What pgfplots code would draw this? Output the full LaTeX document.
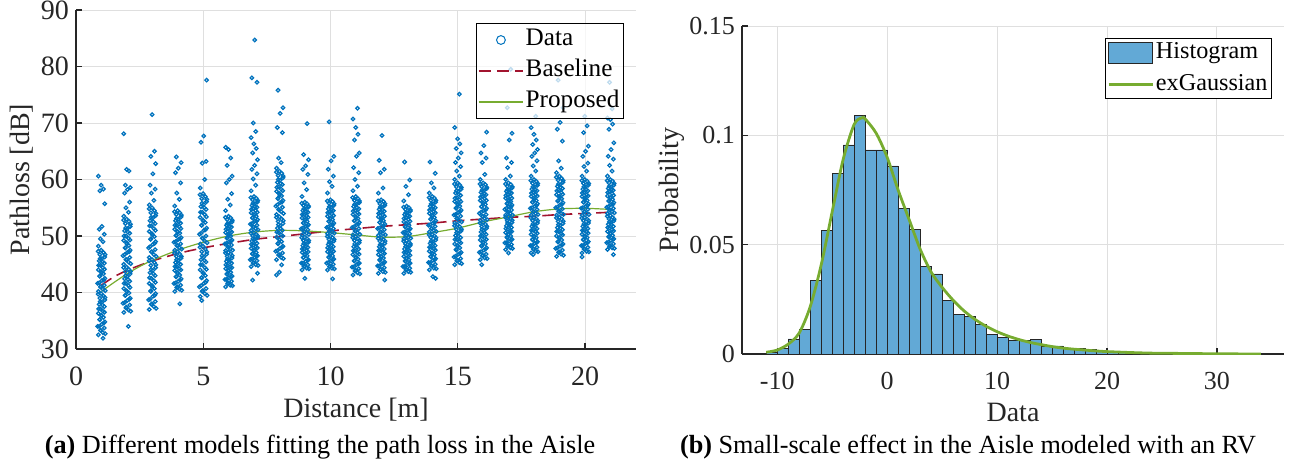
\documentclass[border=0pt]{standalone}
\usepackage{fontspec}
\setmainfont{Liberation Serif}
\usepackage{pgfplots}
\pgfplotsset{compat=1.18}
\definecolor{dblue}{RGB}{0,114,189}
\definecolor{dred}{RGB}{162,20,47}
\definecolor{dgreen}{RGB}{119,172,48}
\definecolor{hblue}{RGB}{98,169,214}
\definecolor{gridc}{RGB}{223,223,223}
\definecolor{axc}{RGB}{38,38,38}
\pgfplotsset{
  mystyle/.style={
    scale only axis,
    axis x line=bottom, axis y line=left,
    axis line style={-, draw=axc, line width=0.6pt},
    tick align=inside, major tick length=3pt,
    tick style={draw=axc, line width=0.6pt},
    grid=major, major grid style={draw=gridc, line width=0.5pt},
    /pgf/number format/assume math mode=true,
    label style={text=axc, font=\fontsize{14}{16}\selectfont},
    legend cell align=left,
  },
  pts/.style={only marks, mark=o, mark size=0.88pt, draw=dblue, line width=0.62pt},
  datalegend/.style={legend image code/.code={\draw[dblue,line width=0.5pt] (11pt,0pt) circle (2.2pt);}},
  redlegend/.style={legend image code/.code={\draw[dred, line width=0.8pt, dash pattern=on 6pt off 3pt] (0pt,0pt) -- (22pt,0pt);}},
  greenlegendA/.style={legend image code/.code={\draw[dgreen, line width=0.6pt] (0pt,0pt) -- (22pt,0pt);}},
  greenlegendB/.style={legend image code/.code={\draw[dgreen, line width=1.3pt] (0pt,0pt) -- (22pt,0pt);}},
  histlegend/.style={legend image code/.code={\draw[fill=hblue, draw=black!85, line width=0.5pt] (0pt,-5.2pt) rectangle (22pt,5.2pt);}},
}
\begin{document}
\begin{tikzpicture}
\useasboundingbox (0,0) rectangle (646.5pt,236pt);
% ---------------- (a) ----------------
\begin{axis}[mystyle,
  at={(38pt,61.5pt)}, anchor=south west,
  width=280pt, height=169.5pt,
  xmin=0, xmax=22, ymin=30, ymax=90,
  xtick={0,5,10,15,20}, ytick={30,40,50,60,70,80,90},
  tick label style={text=axc, font=\fontsize{14}{16}\selectfont},
  xticklabel style={anchor=base, yshift=-18pt},
  xlabel={Distance [m]}, ylabel={Pathloss [dB]},
  xlabel style={at={(axis description cs:0.5,-0.2035)}, anchor=base},
  ylabel style={at={(axis description cs:-0.0964,0.5)}, anchor=center},
  legend style={at={(axis description cs:0.9786,0.9617)}, anchor=north east,
    draw=black, line width=0.5pt, fill=white, fill opacity=0.75, text opacity=1, draw opacity=1,
    font=\fontsize{12.6}{14}\selectfont, inner xsep=1pt, inner ysep=2.5pt, row sep=4pt,
    nodes={inner sep=1pt, text height=0.75em, text depth=0.2em}},
]
\addplot[pts, datalegend]
coordinates {
(0.88,32.5)(1.06,32.9)(0.96,33.3)(1.11,33.7)(0.91,34.0)(1.02,34.4)(1.13,34.8)(0.94,35.2)(1.08,35.6)(0.99,36.0)
(0.88,36.3)(1.06,36.7)(0.96,37.1)(1.11,37.5)(0.91,37.9)(1.02,38.3)(1.13,38.7)(0.94,39.0)(1.08,39.4)(0.99,39.8)
(0.88,40.2)(1.06,40.6)(0.96,41.0)(1.11,41.3)(0.91,41.7)(1.02,42.1)(1.13,42.5)(0.94,42.9)(1.08,43.3)(0.99,43.7)
(0.88,44.0)(1.06,44.4)(0.96,44.8)(1.11,45.2)(0.91,45.6)(1.02,46.0)(1.13,46.3)(0.94,46.7)(1.08,47.1)(0.99,47.5)
(0.88,48.2)(1.06,49.0)(0.96,49.5)(1.11,50.3)(0.91,51.2)(1.02,51.7)(1.13,55.7)(0.94,58.0)(1.08,58.3)(0.99,59.0)(0.88,60.6)(1.06,31.9)
(1.88,36.5)(2.06,36.9)(1.96,37.3)(2.11,37.8)(1.91,38.2)(2.02,38.6)(2.13,39.0)(1.94,39.5)(2.08,39.9)(1.99,40.3)
(1.88,40.7)(2.06,41.2)(1.96,41.6)(2.11,42.0)(1.91,42.4)(2.02,42.8)(2.13,43.3)(1.94,43.7)(2.08,44.1)(1.99,44.5)
(1.88,45.0)(2.06,45.4)(1.96,45.8)(2.11,46.2)(1.91,46.7)(2.02,47.1)(2.13,47.5)(1.94,47.9)(2.08,48.3)(1.99,48.8)
(1.88,49.2)(2.06,49.6)(1.96,50.0)(2.11,50.5)(1.91,50.9)(2.02,51.3)(2.13,51.7)(1.94,52.2)(2.08,52.6)(1.99,53.0)
(1.88,53.5)(2.06,54.2)(1.96,55.0)(2.11,56.0)(1.91,57.6)(2.02,58.2)(2.13,58.6)(1.94,59.0)(2.08,61.5)(1.99,61.8)(1.88,68.1)(2.06,34.0)
(2.88,37.0)(3.06,37.5)(2.96,37.9)(3.11,38.4)(2.91,38.8)(3.02,39.3)(3.13,39.8)(2.94,40.2)(3.08,40.7)(2.99,41.2)
(2.88,41.6)(3.06,42.1)(2.96,42.5)(3.11,43.0)(2.91,43.5)(3.02,43.9)(3.13,44.4)(2.94,44.8)(3.08,45.3)(2.99,45.8)
(2.88,46.2)(3.06,46.7)(2.96,47.2)(3.11,47.6)(2.91,48.1)(3.02,48.5)(3.13,49.0)(2.94,49.5)(3.08,49.9)(2.99,50.4)
(2.88,50.8)(3.06,51.3)(2.96,51.8)(3.11,52.2)(2.91,52.7)(3.02,53.2)(3.13,53.6)(2.94,54.1)(3.08,54.5)(2.99,55.0)
(2.88,55.5)(3.06,56.3)(2.96,57.6)(3.11,58.3)(2.91,59.0)(3.02,61.0)(3.13,62.8)(2.94,64.1)(3.08,65.0)(2.99,71.5)
(3.88,40.2)(4.06,40.6)(3.96,40.9)(4.11,41.3)(3.91,41.7)(4.02,42.0)(4.13,42.4)(3.94,42.8)(4.08,43.1)(3.99,43.5)
(3.88,43.9)(4.06,44.2)(3.96,44.6)(4.11,45.0)(3.91,45.3)(4.02,45.7)(4.13,46.1)(3.94,46.4)(4.08,46.8)(3.99,47.2)
(3.88,47.5)(4.06,47.9)(3.96,48.3)(4.11,48.6)(3.91,49.0)(4.02,49.4)(4.13,49.7)(3.94,50.1)(4.08,50.5)(3.99,50.8)
(3.88,51.2)(4.06,51.6)(3.96,51.9)(4.11,52.3)(3.91,52.7)(4.02,53.0)(4.13,53.4)(3.94,53.8)(4.08,54.1)(3.99,54.5)
(3.88,55.3)(4.06,56.5)(3.96,57.6)(4.11,59.4)(3.91,61.2)(4.02,62.0)(4.13,63.0)(3.94,64.0)(4.08,38.0)
(4.88,39.3)(5.06,39.8)(4.96,40.2)(5.11,40.7)(4.91,41.2)(5.02,41.6)(5.13,42.1)(4.94,42.6)(5.08,43.0)(4.99,43.5)
(4.88,44.0)(5.06,44.4)(4.96,44.9)(5.11,45.4)(4.91,45.8)(5.02,46.3)(5.13,46.8)(4.94,47.2)(5.08,47.7)(4.99,48.2)
(4.88,48.6)(5.06,49.1)(4.96,49.6)(5.11,50.0)(4.91,50.5)(5.02,51.0)(5.13,51.4)(4.94,51.9)(5.08,52.4)(4.99,52.8)
(4.88,53.3)(5.06,53.8)(4.96,54.2)(5.11,54.7)(4.91,55.2)(5.02,55.6)(5.13,56.1)(4.94,56.6)(5.08,57.0)(4.99,57.5)
(4.88,58.5)(5.06,60.0)(4.96,62.9)(5.11,63.2)(4.91,66.6)(5.02,67.7)(5.13,77.6)(4.94,38.6)
(5.88,41.0)(6.06,41.3)(5.96,41.6)(6.11,42.0)(5.91,42.3)(6.02,42.6)(6.13,42.9)(5.94,43.2)(6.08,43.6)(5.99,43.9)
(5.88,44.2)(6.06,44.5)(5.96,44.8)(6.11,45.2)(5.91,45.5)(6.02,45.8)(6.13,46.1)(5.94,46.4)(6.08,46.8)(5.99,47.1)
(5.88,47.4)(6.06,47.7)(5.96,48.1)(6.11,48.4)(5.91,48.7)(6.02,49.0)(6.13,49.3)(5.94,49.7)(6.08,50.0)(5.99,50.3)
(5.88,50.6)(6.06,50.9)(5.96,51.3)(6.11,51.6)(5.91,51.9)(6.02,52.2)(6.13,52.5)(5.94,52.9)(6.08,53.2)(5.99,53.5)
(5.88,54.5)(6.06,55.5)(5.96,56.5)(6.11,57.5)(5.91,59.4)(6.02,60.0)(6.13,60.6)(5.94,62.5)(6.08,63.8)(5.99,65.3)(5.88,65.7)
(6.88,44.6)(7.06,44.9)(6.96,45.2)(7.11,45.6)(6.91,45.9)(7.02,46.2)(7.13,46.5)(6.94,46.8)(7.08,47.1)(6.99,47.5)
(6.88,47.8)(7.06,48.1)(6.96,48.4)(7.11,48.7)(6.91,49.1)(7.02,49.4)(7.13,49.7)(6.94,50.0)(7.08,50.3)(6.99,50.6)
(6.88,51.0)(7.06,51.3)(6.96,51.6)(7.11,51.9)(6.91,52.2)(7.02,52.6)(7.13,52.9)(6.94,53.2)(7.08,53.5)(6.99,53.8)
(6.88,54.1)(7.06,54.5)(6.96,54.8)(7.11,55.1)(6.91,55.4)(7.02,55.7)(7.13,56.0)(6.94,56.4)(7.08,56.7)(6.99,57.0)
(6.88,58.0)(7.06,59.0)(6.96,60.1)(7.11,61.0)(6.91,61.8)(7.02,62.5)(7.13,63.5)(6.94,64.7)(7.08,65.5)(6.99,66.3)(6.88,67.4)(7.06,68.5)(6.96,70.0)(7.11,77.2)(6.91,78.0)(7.02,84.7)(7.13,43.4)(6.94,42.2)
(7.88,45.8)(8.06,46.2)(7.96,46.6)(8.11,47.0)(7.91,47.4)(8.02,47.8)(8.13,48.2)(7.94,48.6)(8.08,49.0)(7.99,49.4)
(7.88,49.8)(8.06,50.2)(7.96,50.6)(8.11,51.0)(7.91,51.4)(8.02,51.8)(8.13,52.2)(7.94,52.6)(8.08,53.0)(7.99,53.4)
(7.88,53.8)(8.06,54.3)(7.96,54.7)(8.11,55.1)(7.91,55.5)(8.02,55.9)(8.13,56.3)(7.94,56.7)(8.08,57.1)(7.99,57.5)
(7.88,57.9)(8.06,58.3)(7.96,58.7)(8.11,59.1)(7.91,59.5)(8.02,59.9)(8.13,60.3)(7.94,60.7)(8.08,61.1)(7.99,61.5)
(7.88,62.0)(8.06,63.0)(7.96,63.8)(8.11,68.3)(7.91,69.2)(8.02,71.7)(8.13,72.7)(7.94,75.8)(8.08,44.9)(7.99,43.6)(7.88,43.1)
(8.88,44.0)(9.06,44.3)(8.96,44.6)(9.11,44.9)(8.91,45.2)(9.02,45.5)(9.13,45.8)(8.94,46.2)(9.08,46.5)(8.99,46.8)
(8.88,47.1)(9.06,47.4)(8.96,47.7)(9.11,48.0)(8.91,48.3)(9.02,48.6)(9.13,48.9)(8.94,49.2)(9.08,49.5)(8.99,49.8)
(8.88,50.2)(9.06,50.5)(8.96,50.8)(9.11,51.1)(8.91,51.4)(9.02,51.7)(9.13,52.0)(8.94,52.3)(9.08,52.6)(8.99,52.9)
(8.88,53.2)(9.06,53.5)(8.96,53.8)(9.11,54.2)(8.91,54.5)(9.02,54.8)(9.13,55.1)(8.94,55.4)(9.08,55.7)(8.99,56.0)
(8.88,57.0)(9.06,58.2)(8.96,59.4)(9.11,60.9)(8.91,61.8)(9.02,62.4)(9.13,63.5)(8.94,64.4)(9.08,69.9)(8.99,42.5)
(9.88,44.0)(10.06,44.3)(9.96,44.6)(10.11,45.0)(9.91,45.3)(10.02,45.6)(10.13,45.9)(9.94,46.2)(10.08,46.5)(9.99,46.9)
(9.88,47.2)(10.06,47.5)(9.96,47.8)(10.11,48.1)(9.91,48.5)(10.02,48.8)(10.13,49.1)(9.94,49.4)(10.08,49.7)(9.99,50.0)
(9.88,50.4)(10.06,50.7)(9.96,51.0)(10.11,51.3)(9.91,51.6)(10.02,52.0)(10.13,52.3)(9.94,52.6)(10.08,52.9)(9.99,53.2)
(9.88,53.5)(10.06,53.9)(9.96,54.2)(10.11,54.5)(9.91,54.8)(10.02,55.1)(10.13,55.4)(9.94,55.8)(10.08,56.1)(9.99,56.4)
(9.88,57.6)(10.06,58.8)(9.96,59.6)(10.11,60.6)(9.91,61.8)(10.02,63.3)(10.13,64.1)(9.94,70.2)(10.08,42.4)
(10.88,43.1)(11.06,43.5)(10.96,43.8)(11.11,44.2)(10.91,44.5)(11.02,44.9)(11.13,45.2)(10.94,45.6)(11.08,45.9)(10.99,46.3)
(10.88,46.7)(11.06,47.0)(10.96,47.4)(11.11,47.7)(10.91,48.1)(11.02,48.4)(11.13,48.8)(10.94,49.2)(11.08,49.5)(10.99,49.9)
(10.88,50.2)(11.06,50.6)(10.96,50.9)(11.11,51.3)(10.91,51.6)(11.02,52.0)(11.13,52.4)(10.94,52.7)(11.08,53.1)(10.99,53.4)
(10.88,53.8)(11.06,54.1)(10.96,54.5)(11.11,54.8)(10.91,55.2)(11.02,55.6)(11.13,55.9)(10.94,56.3)(11.08,56.6)(10.99,57.0)
(10.88,58.0)(11.06,58.8)(10.96,60.0)(11.11,61.2)(10.91,62.1)(11.02,64.1)(11.13,64.7)(10.94,67.0)(11.08,68.0)(10.99,69.2)(10.88,70.7)(11.06,72.6)
(11.88,43.4)(12.06,43.7)(11.96,44.1)(12.11,44.4)(11.91,44.7)(12.02,45.1)(12.13,45.4)(11.94,45.7)(12.08,46.1)(11.99,46.4)
(11.88,46.7)(12.06,47.1)(11.96,47.4)(12.11,47.7)(11.91,48.1)(12.02,48.4)(12.13,48.7)(11.94,49.1)(12.08,49.4)(11.99,49.7)
(11.88,50.1)(12.06,50.4)(11.96,50.7)(12.11,51.1)(11.91,51.4)(12.02,51.7)(12.13,52.1)(11.94,52.4)(12.08,52.7)(11.99,53.1)
(11.88,53.4)(12.06,53.7)(11.96,54.1)(12.11,54.4)(11.91,54.7)(12.02,55.1)(12.13,55.4)(11.94,55.7)(12.08,56.1)(11.99,56.4)
(11.88,57.6)(12.06,58.5)(11.96,61.2)(12.11,61.8)(11.91,63.4)(12.02,67.8)(12.13,42.2)
(12.88,43.4)(13.06,43.7)(12.96,44.0)(13.11,44.3)(12.91,44.6)(13.02,44.9)(13.13,45.2)(12.94,45.5)(13.08,45.8)(12.99,46.1)
(12.88,46.4)(13.06,46.8)(12.96,47.1)(13.11,47.4)(12.91,47.7)(13.02,48.0)(13.13,48.3)(12.94,48.6)(13.08,48.9)(12.99,49.2)
(12.88,49.5)(13.06,49.8)(12.96,50.1)(13.11,50.4)(12.91,50.7)(13.02,51.0)(13.13,51.3)(12.94,51.6)(13.08,51.9)(12.99,52.2)
(12.88,52.5)(13.06,52.9)(12.96,53.2)(13.11,53.5)(12.91,53.8)(13.02,54.1)(13.13,54.4)(12.94,54.7)(13.08,55.0)(12.99,55.3)
(12.88,56.2)(13.06,57.3)(12.96,58.8)(13.11,59.9)(12.91,63.1)
(13.88,44.0)(14.06,44.3)(13.96,44.7)(14.11,45.0)(13.91,45.3)(14.02,45.7)(14.13,46.0)(13.94,46.3)(14.08,46.7)(13.99,47.0)
(13.88,47.3)(14.06,47.7)(13.96,48.0)(14.11,48.3)(13.91,48.7)(14.02,49.0)(14.13,49.3)(13.94,49.7)(14.08,50.0)(13.99,50.3)
(13.88,50.7)(14.06,51.0)(13.96,51.3)(14.11,51.7)(13.91,52.0)(14.02,52.3)(14.13,52.7)(13.94,53.0)(14.08,53.3)(13.99,53.7)
(13.88,54.0)(14.06,54.3)(13.96,54.7)(14.11,55.0)(13.91,55.3)(14.02,55.7)(14.13,56.0)(13.94,56.3)(14.08,56.7)(13.99,57.0)
(13.88,57.6)(14.06,58.5)(13.96,59.4)(14.11,61.1)(13.91,63.1)(14.02,42.8)(14.13,42.5)
(14.88,44.9)(15.06,45.3)(14.96,45.6)(15.11,46.0)(14.91,46.4)(15.02,46.8)(15.13,47.1)(14.94,47.5)(15.08,47.9)(14.99,48.3)
(14.88,48.6)(15.06,49.0)(14.96,49.4)(15.11,49.7)(14.91,50.1)(15.02,50.5)(15.13,50.9)(14.94,51.2)(15.08,51.6)(14.99,52.0)
(14.88,52.3)(15.06,52.7)(14.96,53.1)(15.11,53.5)(14.91,53.8)(15.02,54.2)(15.13,54.6)(14.94,55.0)(15.08,55.3)(14.99,55.7)
(14.88,56.1)(15.06,56.4)(14.96,56.8)(15.11,57.2)(14.91,57.6)(15.02,57.9)(15.13,58.3)(14.94,58.7)(15.08,59.0)(14.99,59.4)
(14.88,60.0)(15.06,60.6)(14.96,61.5)(15.11,62.3)(14.91,63.0)(15.02,63.8)(15.13,64.7)(14.94,65.5)(15.08,66.3)(14.99,67.2)(14.88,69.2)(15.06,75.1)
(15.88,45.8)(16.06,46.1)(15.96,46.5)(16.11,46.8)(15.91,47.2)(16.02,47.5)(16.13,47.9)(15.94,48.2)(16.08,48.6)(15.99,48.9)
(15.88,49.3)(16.06,49.6)(15.96,50.0)(16.11,50.3)(15.91,50.7)(16.02,51.0)(16.13,51.4)(15.94,51.7)(16.08,52.1)(15.99,52.4)
(15.88,52.8)(16.06,53.1)(15.96,53.5)(16.11,53.8)(15.91,54.2)(16.02,54.5)(16.13,54.9)(15.94,55.2)(16.08,55.6)(15.99,55.9)
(15.88,56.3)(16.06,56.6)(15.96,57.0)(16.11,57.3)(15.91,57.7)(16.02,58.0)(16.13,58.4)(15.94,58.7)(16.08,59.1)(15.99,59.4)
(15.88,60.0)(16.06,60.9)(15.96,63.0)(16.11,63.8)(15.91,64.7)(16.02,66.0)(16.13,68.4)(15.94,44.9)
(16.88,47.6)(17.06,47.9)(16.96,48.2)(17.11,48.5)(16.91,48.8)(17.02,49.1)(17.13,49.4)(16.94,49.7)(17.08,50.0)(16.99,50.3)
(16.88,50.6)(17.06,50.9)(16.96,51.2)(17.11,51.5)(16.91,51.8)(17.02,52.1)(17.13,52.4)(16.94,52.7)(17.08,53.0)(16.99,53.4)
(16.88,53.7)(17.06,54.0)(16.96,54.3)(17.11,54.6)(16.91,54.9)(17.02,55.2)(17.13,55.5)(16.94,55.8)(17.08,56.1)(16.99,56.4)
(16.88,56.7)(17.06,57.0)(16.96,57.3)(17.11,57.6)(16.91,57.9)(17.02,58.2)(17.13,58.5)(16.94,58.8)(17.08,59.1)(16.99,59.4)
(16.88,60.0)(17.06,60.6)(16.96,62.1)(17.11,63.0)(16.91,63.8)(17.02,67.0)(17.13,68.2)(16.94,72.7)(17.08,79.5)(16.99,47.0)
(17.88,47.0)(18.06,47.3)(17.96,47.7)(18.11,48.0)(17.91,48.3)(18.02,48.7)(18.13,49.0)(17.94,49.3)(18.08,49.7)(17.99,50.0)
(17.88,50.3)(18.06,50.7)(17.96,51.0)(18.11,51.3)(17.91,51.7)(18.02,52.0)(18.13,52.3)(17.94,52.7)(18.08,53.0)(17.99,53.3)
(17.88,53.7)(18.06,54.0)(17.96,54.3)(18.11,54.7)(17.91,55.0)(18.02,55.3)(18.13,55.7)(17.94,56.0)(18.08,56.3)(17.99,56.7)
(17.88,57.0)(18.06,57.3)(17.96,57.7)(18.11,58.0)(17.91,58.3)(18.02,58.7)(18.13,59.0)(17.94,59.3)(18.08,59.7)(17.99,60.0)
(17.88,60.6)(18.06,61.5)(17.96,62.4)(18.11,63.3)(17.91,64.1)(18.02,64.7)(18.13,65.3)(17.94,66.2)(18.08,67.0)(17.99,68.0)(17.88,69.2)(18.06,71.2)(17.96,46.7)
(18.88,46.4)(19.06,46.8)(18.96,47.1)(19.11,47.5)(18.91,47.9)(19.02,48.2)(19.13,48.6)(18.94,48.9)(19.08,49.3)(18.99,49.7)
(18.88,50.0)(19.06,50.4)(18.96,50.8)(19.11,51.1)(18.91,51.5)(19.02,51.9)(19.13,52.2)(18.94,52.6)(19.08,53.0)(18.99,53.3)
(18.88,53.7)(19.06,54.0)(18.96,54.4)(19.11,54.8)(18.91,55.1)(19.02,55.5)(19.13,55.9)(18.94,56.2)(19.08,56.6)(18.99,57.0)
(18.88,57.3)(19.06,57.7)(18.96,58.1)(19.11,58.4)(18.91,58.8)(19.02,59.1)(19.13,59.5)(18.94,59.9)(19.08,60.2)(18.99,60.6)
(18.88,61.2)(19.06,62.0)(18.96,63.3)(19.11,66.8)(18.91,68.9)(19.02,70.1)(19.13,72.7)(18.94,77.6)
(19.88,47.0)(20.06,47.3)(19.96,47.7)(20.11,48.0)(19.91,48.3)(20.02,48.7)(20.13,49.0)(19.94,49.3)(20.08,49.7)(19.99,50.0)
(19.88,50.3)(20.06,50.7)(19.96,51.0)(20.11,51.3)(19.91,51.7)(20.02,52.0)(20.13,52.3)(19.94,52.7)(20.08,53.0)(19.99,53.3)
(19.88,53.7)(20.06,54.0)(19.96,54.3)(20.11,54.7)(19.91,55.0)(20.02,55.3)(20.13,55.7)(19.94,56.0)(20.08,56.3)(19.99,56.7)
(19.88,57.0)(20.06,57.3)(19.96,57.7)(20.11,58.0)(19.91,58.3)(20.02,58.7)(20.13,59.0)(19.94,59.3)(20.08,59.7)(19.99,60.0)
(19.88,60.6)(20.06,61.5)(19.96,62.3)(20.11,62.9)(19.91,64.1)(20.02,65.0)(20.13,65.9)(19.94,68.3)(20.08,69.5)(19.99,71.2)(19.88,46.3)
(20.88,47.6)(21.06,47.9)(20.96,48.2)(21.11,48.6)(20.91,48.9)(21.02,49.2)(21.13,49.5)(20.94,49.8)(21.08,50.1)(20.99,50.5)
(20.88,50.8)(21.06,51.1)(20.96,51.4)(21.11,51.7)(20.91,52.1)(21.02,52.4)(21.13,52.7)(20.94,53.0)(21.08,53.3)(20.99,53.6)
(20.88,54.0)(21.06,54.3)(20.96,54.6)(21.11,54.9)(20.91,55.2)(21.02,55.6)(21.13,55.9)(20.94,56.2)(21.08,56.5)(20.99,56.8)
(20.88,57.1)(21.06,57.5)(20.96,57.8)(21.11,58.1)(20.91,58.4)(21.02,58.7)(21.13,59.0)(20.94,59.4)(21.08,59.7)(20.99,60.0)
(20.88,60.6)(21.06,61.5)(20.96,62.5)(21.11,63.6)(20.91,64.1)(21.02,65.3)(21.13,66.5)(20.94,68.9)(21.08,69.8)(20.99,70.6)(20.88,70.9)(21.06,72.5)(20.96,77.2)(21.11,46.7)
};
\addlegendentry{Data}
\addplot[pts, forget plot]
coordinates {
(1.15,32.7)(0.98,33.3)(0.85,34.0)(1.09,34.6)(0.93,35.2)(1.00,35.9)(1.12,36.5)(0.89,37.1)(1.04,37.8)(0.95,38.4)(1.14,39.1)(0.87,39.7)
(1.15,40.3)(0.98,41.0)(0.85,41.6)(1.09,42.2)(0.93,42.9)(1.00,43.5)(1.12,44.1)(0.89,44.8)(1.04,45.4)(0.95,46.0)(1.14,46.7)(0.87,47.3)
(2.15,36.7)(1.98,37.4)(1.85,38.1)(2.09,38.8)(1.93,39.5)(2.00,40.2)(2.12,40.9)(1.89,41.6)(2.04,42.3)(1.95,43.0)(2.14,43.7)(1.87,44.4)
(2.15,45.1)(1.98,45.8)(1.85,46.5)(2.09,47.2)(1.93,47.9)(2.00,48.6)(2.12,49.3)(1.89,50.0)(2.04,50.7)(1.95,51.4)(2.14,52.1)(1.87,52.8)
(3.15,37.2)(2.98,38.0)(2.85,38.7)(3.09,39.5)(2.93,40.3)(3.00,41.0)(3.12,41.8)(2.89,42.6)(3.04,43.3)(2.95,44.1)(3.14,44.9)(2.87,45.6)
(3.15,46.4)(2.98,47.2)(2.85,47.9)(3.09,48.7)(2.93,49.4)(3.00,50.2)(3.12,51.0)(2.89,51.8)(3.04,52.5)(2.95,53.3)(3.14,54.0)(2.87,54.8)
(4.15,40.4)(3.98,41.0)(3.85,41.6)(4.09,42.2)(3.93,42.8)(4.00,43.4)(4.12,44.0)(3.89,44.6)(4.04,45.2)(3.95,45.8)(4.14,46.4)(3.87,47.0)
(4.15,47.7)(3.98,48.3)(3.85,48.9)(4.09,49.5)(3.93,50.1)(4.00,50.7)(4.12,51.3)(3.89,51.9)(4.04,52.5)(3.95,53.1)(4.14,53.7)(3.87,54.3)
(5.15,39.5)(4.98,40.3)(4.85,41.0)(5.09,41.8)(4.93,42.6)(5.00,43.4)(5.12,44.1)(4.89,44.9)(5.04,45.7)(4.95,46.5)(5.14,47.2)(4.87,48.0)
(5.15,48.8)(4.98,49.6)(4.85,50.3)(5.09,51.1)(4.93,51.9)(5.00,52.7)(5.12,53.4)(4.89,54.2)(5.04,55.0)(4.95,55.8)(5.14,56.5)(4.87,57.3)
(6.15,41.2)(5.98,41.7)(5.85,42.3)(6.09,42.8)(5.93,43.3)(6.00,43.8)(6.12,44.4)(5.89,44.9)(6.04,45.4)(5.95,45.9)(6.14,46.5)(5.87,47.0)
(6.15,47.5)(5.98,48.0)(5.85,48.6)(6.09,49.1)(5.93,49.6)(6.00,50.1)(6.12,50.7)(5.89,51.2)(6.04,51.7)(5.95,52.2)(6.14,52.8)(5.87,53.3)
(7.15,44.8)(6.98,45.3)(6.85,45.8)(7.09,46.4)(6.93,46.9)(7.00,47.4)(7.12,47.9)(6.89,48.5)(7.04,49.0)(6.95,49.5)(7.14,50.0)(6.87,50.5)
(7.15,51.1)(6.98,51.6)(6.85,52.1)(7.09,52.6)(6.93,53.2)(7.00,53.7)(7.12,54.2)(6.89,54.7)(7.04,55.2)(6.95,55.8)(7.14,56.3)(6.87,56.8)
(8.15,46.0)(7.98,46.7)(7.85,47.3)(8.09,48.0)(7.93,48.7)(8.00,49.3)(8.12,50.0)(7.89,50.7)(8.04,51.3)(7.95,52.0)(8.14,52.7)(7.87,53.3)
(8.15,54.0)(7.98,54.6)(7.85,55.3)(8.09,56.0)(7.93,56.6)(8.00,57.3)(8.12,58.0)(7.89,58.6)(8.04,59.3)(7.95,60.0)(8.14,60.6)(7.87,61.3)
(9.15,44.2)(8.98,44.7)(8.85,45.2)(9.09,45.7)(8.93,46.2)(9.00,46.7)(9.12,47.2)(8.89,47.7)(9.04,48.2)(8.95,48.7)(9.14,49.2)(8.87,49.7)
(9.15,50.3)(8.98,50.8)(8.85,51.3)(9.09,51.8)(8.93,52.3)(9.00,52.8)(9.12,53.3)(8.89,53.8)(9.04,54.3)(8.95,54.8)(9.14,55.3)(8.87,55.8)
(10.15,44.2)(9.98,44.7)(9.85,45.2)(10.09,45.8)(9.93,46.3)(10.00,46.8)(10.12,47.3)(9.89,47.9)(10.04,48.4)(9.95,48.9)(10.14,49.4)(9.87,49.9)
(10.15,50.5)(9.98,51.0)(9.85,51.5)(10.09,52.0)(9.93,52.6)(10.00,53.1)(10.12,53.6)(9.89,54.1)(10.04,54.6)(9.95,55.2)(10.14,55.7)(9.87,56.2)
(11.15,43.3)(10.98,43.9)(10.85,44.5)(11.09,45.1)(10.93,45.6)(11.00,46.2)(11.12,46.8)(10.89,47.4)(11.04,48.0)(10.95,48.6)(11.14,49.2)(10.87,49.7)
(11.15,50.3)(10.98,50.9)(10.85,51.5)(11.09,52.1)(10.93,52.7)(11.00,53.3)(11.12,53.9)(10.89,54.4)(11.04,55.0)(10.95,55.6)(11.14,56.2)(10.87,56.8)
(12.15,43.6)(11.98,44.1)(11.85,44.7)(12.09,45.2)(11.93,45.8)(12.00,46.3)(12.12,46.9)(11.89,47.4)(12.04,48.0)(11.95,48.5)(12.14,49.1)(11.87,49.6)
(12.15,50.2)(11.98,50.7)(11.85,51.3)(12.09,51.8)(11.93,52.4)(12.00,52.9)(12.12,53.5)(11.89,54.0)(12.04,54.6)(11.95,55.1)(12.14,55.7)(11.87,56.2)
(13.15,43.6)(12.98,44.1)(12.85,44.6)(13.09,45.1)(12.93,45.6)(13.00,46.1)(13.12,46.6)(12.89,47.1)(13.04,47.6)(12.95,48.1)(13.14,48.6)(12.87,49.1)
(13.15,49.6)(12.98,50.1)(12.85,50.6)(13.09,51.1)(12.93,51.6)(13.00,52.1)(13.12,52.6)(12.89,53.1)(13.04,53.6)(12.95,54.1)(13.14,54.6)(12.87,55.1)
(14.15,44.2)(13.98,44.7)(13.85,45.3)(14.09,45.8)(13.93,46.4)(14.00,46.9)(14.12,47.5)(13.89,48.0)(14.04,48.6)(13.95,49.1)(14.14,49.7)(13.87,50.2)
(14.15,50.8)(13.98,51.3)(13.85,51.9)(14.09,52.4)(13.93,53.0)(14.00,53.5)(14.12,54.1)(13.89,54.6)(14.04,55.2)(13.95,55.7)(14.14,56.3)(13.87,56.8)
(15.15,45.1)(14.98,45.7)(14.85,46.3)(15.09,46.9)(14.93,47.6)(15.00,48.2)(15.12,48.8)(14.89,49.4)(15.04,50.0)(14.95,50.6)(15.14,51.2)(14.87,51.8)
(15.15,52.5)(14.98,53.1)(14.85,53.7)(15.09,54.3)(14.93,54.9)(15.00,55.5)(15.12,56.1)(14.89,56.7)(15.04,57.4)(14.95,58.0)(15.14,58.6)(14.87,59.2)
(16.15,46.0)(15.98,46.6)(15.85,47.1)(16.09,47.7)(15.93,48.3)(16.00,48.9)(16.12,49.4)(15.89,50.0)(16.04,50.6)(15.95,51.2)(16.14,51.7)(15.87,52.3)
(16.15,52.9)(15.98,53.5)(15.85,54.0)(16.09,54.6)(15.93,55.2)(16.00,55.8)(16.12,56.3)(15.89,56.9)(16.04,57.5)(15.95,58.1)(16.14,58.6)(15.87,59.2)
(17.15,47.8)(16.98,48.3)(16.85,48.8)(17.09,49.3)(16.93,49.8)(17.00,50.3)(17.12,50.8)(16.89,51.3)(17.04,51.8)(16.95,52.3)(17.14,52.8)(16.87,53.3)
(17.15,53.7)(16.98,54.2)(16.85,54.7)(17.09,55.2)(16.93,55.7)(17.00,56.2)(17.12,56.7)(16.89,57.2)(17.04,57.7)(16.95,58.2)(17.14,58.7)(16.87,59.2)
(18.15,47.2)(17.98,47.7)(17.85,48.3)(18.09,48.8)(17.93,49.4)(18.00,49.9)(18.12,50.5)(17.89,51.0)(18.04,51.6)(17.95,52.1)(18.14,52.7)(17.87,53.2)
(18.15,53.8)(17.98,54.3)(17.85,54.9)(18.09,55.4)(17.93,56.0)(18.00,56.5)(18.12,57.1)(17.89,57.6)(18.04,58.2)(17.95,58.7)(18.14,59.3)(17.87,59.8)
(19.15,46.6)(18.98,47.2)(18.85,47.8)(19.09,48.4)(18.93,49.0)(19.00,49.6)(19.12,50.2)(18.89,50.8)(19.04,51.4)(18.95,52.0)(19.14,52.6)(18.87,53.2)
(19.15,53.8)(18.98,54.4)(18.85,55.0)(19.09,55.6)(18.93,56.2)(19.00,56.8)(19.12,57.4)(18.89,58.0)(19.04,58.6)(18.95,59.2)(19.14,59.8)(18.87,60.4)
(20.15,47.2)(19.98,47.7)(19.85,48.3)(20.09,48.8)(19.93,49.4)(20.00,49.9)(20.12,50.5)(19.89,51.0)(20.04,51.6)(19.95,52.1)(20.14,52.7)(19.87,53.2)
(20.15,53.8)(19.98,54.3)(19.85,54.9)(20.09,55.4)(19.93,56.0)(20.00,56.5)(20.12,57.1)(19.89,57.6)(20.04,58.2)(19.95,58.7)(20.14,59.3)(19.87,59.8)
(21.15,47.8)(20.98,48.3)(20.85,48.8)(21.09,49.4)(20.93,49.9)(21.00,50.4)(21.12,50.9)(20.89,51.5)(21.04,52.0)(20.95,52.5)(21.14,53.0)(20.87,53.5)
(21.15,54.1)(20.98,54.6)(20.85,55.1)(21.09,55.6)(20.93,56.2)(21.00,56.7)(21.12,57.2)(20.89,57.7)(21.04,58.2)(20.95,58.8)(21.14,59.3)(20.87,59.8)
};
\addplot[dred, line width=0.8pt, dash pattern=on 6pt off 3pt, smooth, redlegend]
coordinates {(1,41.3)(1.5,42.8)(2,43.9)(2.5,44.8)(3,45.6)(4,46.9)(5,47.9)(6,48.7)(7,49.4)(8,49.9)(9,50.4)(10,50.9)(11,51.3)(12,51.7)(13,52.0)(14,52.3)(15,52.7)(16,53.0)(17,53.3)(18,53.5)(19,53.8)(20,54.0)(21,54.2)};
\addlegendentry{Baseline}
\addplot[dgreen, line width=0.6pt, smooth, greenlegendA]
coordinates {(1,40.2)(1.5,41.8)(2,43.3)(2.5,44.6)(3,45.7)(4,47.5)(5,48.9)(6,50.0)(7,50.7)(8,51.0)(9,50.9)(10,50.6)(11,50.2)(12,49.8)(13,49.9)(14,50.6)(15,51.4)(16,52.5)(17,53.4)(18,54.3)(19,54.8)(20,54.9)(21,54.7)};
\addlegendentry{Proposed}
\end{axis}
% ---------------- (b) ----------------
\begin{axis}[mystyle,
  at={(371pt,59pt)}, anchor=south west,
  width=271pt, height=164pt,
  xmin=-13.2, xmax=36.1, ymin=0, ymax=0.15,
  xtick={-10,0,10,20,30}, xticklabels={-10,0,10,20,30},
  ytick={0,0.05,0.1,0.15}, yticklabels={0,0.05,0.1,0.15},
  scaled y ticks=false,
  tick label style={text=axc, font=\fontsize{13}{15}\selectfont},
  xticklabel style={anchor=base, yshift=-17.5pt},
  xlabel={Data}, ylabel={Probability},
  xlabel style={at={(axis description cs:0.5,-0.2064)}, anchor=base},
  ylabel style={at={(axis description cs:-0.129,0.5)}, anchor=center},
  legend style={at={(axis description cs:0.9779,0.9634)}, anchor=north east,
    draw=black, line width=0.5pt, fill=white,
    font=\fontsize{12.1}{14}\selectfont, inner xsep=1pt, inner ysep=1.3pt, row sep=4.5pt,
    nodes={inner sep=1pt, text height=0.75em, text depth=0.2em}},
]
\addplot[ybar interval, fill=hblue, draw=black!85, line width=0.4pt, histlegend]
coordinates {(-11,0.0007)(-10,0.0026)(-9,0.0069)(-8,0.0112)(-7,0.0335)(-6,0.0564)(-5,0.0826)(-4,0.0956)(-3,0.1093)(-2,0.0933)(-1,0.0933)(0,0.0860)(1,0.0665)(2,0.0570)(3,0.0400)(4,0.0366)(5,0.0244)(6,0.0181)(7,0.0171)(8,0.0137)(9,0.0091)(10,0.0076)(11,0.0061)(12,0.0061)(13,0.0067)(14,0.0037)(15,0.0037)(16,0.0026)(17,0.0026)(18,0.0021)(19,0.0015)(20,0.0010)(21,0.0008)(22,0.0006)(23,0.0005)(24,0.0004)(25,0.0003)(26,0.0003)(27,0.0002)(28,0.0002)(29,0.0002)(30,0.0001)(31,0.0001)(32,0.0001)(33,0.0001)(34,0)};
\addlegendentry{Histogram}
\addplot[dgreen, line width=1.4pt, smooth, greenlegendB]
coordinates {(-11,0.0008)(-10,0.0018)(-9,0.0045)(-8,0.0096)(-7,0.0216)(-6,0.0407)(-5,0.0650)(-4,0.0890)(-3,0.1050)(-2.3,0.1080)(-2,0.1075)(-1,0.1010)(0,0.0900)(1,0.0750)(2,0.0615)(3,0.0480)(4,0.0375)(5,0.0305)(6,0.0246)(7,0.0197)(8,0.0158)(9,0.0127)(10,0.0102)(11,0.0082)(12,0.0066)(13,0.0053)(14,0.0043)(15,0.0034)(16,0.0027)(17,0.0022)(18,0.0018)(19,0.0014)(20,0.0011)(22,0.0007)(24,0.0004)(26,0.0003)(28,0.0002)(30,0.0001)(34,0.0000)};
\addlegendentry{exGaussian}
\end{axis}
\node[anchor=base, font=\fontsize{13.1}{15}\selectfont] at (160pt,9.5pt) {\textbf{(a)} Different models fitting the path loss in the Aisle};
\node[anchor=base, font=\fontsize{13.1}{15}\selectfont] at (484pt,9.5pt) {\textbf{(b)} Small-scale effect in the Aisle modeled with an RV};
\end{tikzpicture}
\end{document}
